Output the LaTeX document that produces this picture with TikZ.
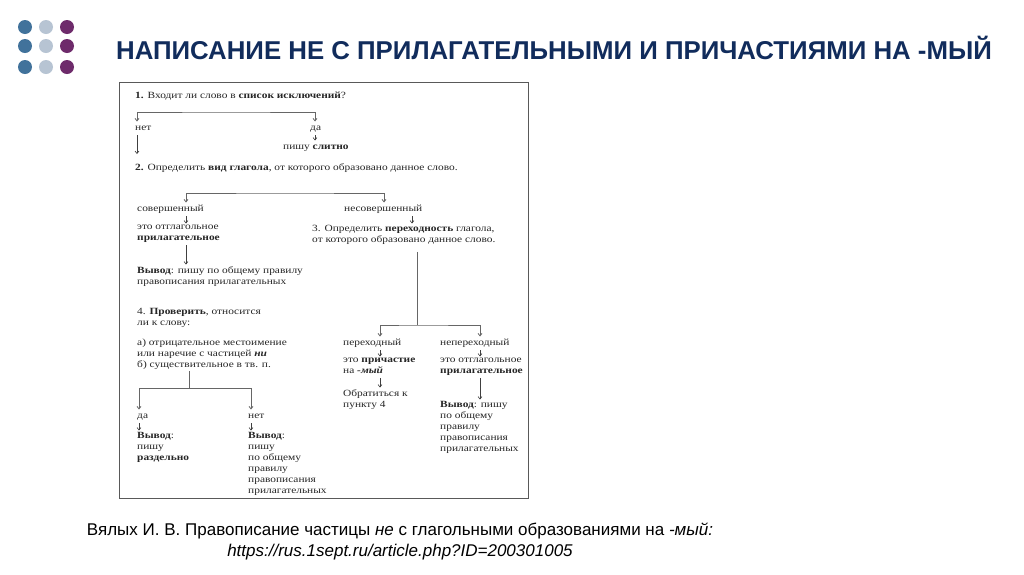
\documentclass[tikz,border=0pt]{standalone}
\usepackage{fontspec}
\setmainfont{Liberation Serif}
\newfontfamily\diafont[FakeStretch=1.2]{Liberation Serif}
\newfontfamily\headfont{Liberation Sans}
\usetikzlibrary{arrows.meta}
\definecolor{dotblue}{HTML}{41729B}
\definecolor{dotgray}{HTML}{B7C4D3}
\definecolor{dotpurple}{HTML}{6E2B6B}
\definecolor{titleblue}{HTML}{112C5C}

\begin{document}
\begin{tikzpicture}[x=1pt,y=-1pt,
    txt/.style={anchor=north west,align=left,inner sep=0pt,text=black!85,yshift=-1.5pt,
      font=\diafont\fontsize{9.5}{11}\selectfont,
      execute at begin node=\strut,execute at end node=\strut},
    arr/.style={-{Straight Barb[length=2.5pt,width=4pt]},line width=0.6pt,draw=black!75,
      shorten <=1pt,shorten >=1.5pt},
    bar/.style={line width=0.8pt,draw=black!60},
    both/.style={bar,{Straight Barb[length=2.5pt,width=4pt]}-{Straight Barb[length=2.5pt,width=4pt]},
      shorten <=1.5pt,shorten >=1.5pt}]
    \useasboundingbox (0,0) rectangle (1024,574);
    \fill[white] (0,0) rectangle (1024,574);
    \foreach \c/\col in {25/dotblue,46/dotgray,67/dotpurple}
      \foreach \r in {27,46,67} \fill[\col] (\c,\r) circle (7);
    \node[font=\headfont\bfseries\fontsize{25.8}{30}\selectfont,text=titleblue] (title) at (554,48)
      {НАПИСАНИЕ НЕ С ПРИЛАГАТЕЛЬНЫМИ И ПРИЧАСТИЯМИ НА -МЫЙ};
    \draw[line width=0.9pt,black!65] (119,82) rectangle (528,498);

    \coordinate (cA) at (137,0);
    \coordinate (cB) at (315,0);
    \coordinate (cP) at (186,0);
    \coordinate (cN) at (384,0);
    \coordinate (cN2) at (412,0);
    \coordinate (cQ3) at (417,0);
    \coordinate (cT) at (380,0);
    \coordinate (cI) at (480,0);
    \coordinate (cQ4) at (189,0);
    \coordinate (cD) at (139,0);
    \coordinate (cNo) at (251,0);
    \coordinate (b1) at (226,112);
    \coordinate (b2) at (285,193);
    \coordinate (b3) at (417,325);
    \coordinate (b4) at (189,388);

    \node[txt] (q1) at (135,89.5) {\textbf{1.} Входит ли слово в \textbf{список исключений}?};
    \node[txt] (no1) at (135,121.5) {нет};
    \node[txt] (yes1) at (310,121.5) {да};
    \node[txt] (wr1) at (283,140.5) {пишу \textbf{слитно}};
    \node[txt] (q2) at (135,161.5) {\textbf{2.} Определить \textbf{вид глагола}, от которого образовано данное слово.};
    \node[txt] (perf) at (137,202.5) {совершенный};
    \node[txt] (imperf) at (344,202.5) {несовершенный};
    \node[txt] (adj1) at (137,223.5) {это отглагольное\\\textbf{прилагательное}};
    \node[txt] (q3) at (312,223.5) {3. Определить \textbf{переходность} глагола,\\от которого образовано данное слово.};
    \node[txt] (concl1) at (137,264.5) {\textbf{Вывод}: пишу по общему правилу\\правописания прилагательных};
    \node[txt] (q4) at (137,306.5) {4. \textbf{Проверить}, относится\\ли к слову:};
    \node[txt] (q4b) at (137,337.5) {а) отрицательное местоимение\\или наречие с частицей \textbf{\textit{ни}}\\б) существительное в тв. п.};
    \node[txt] (yes4) at (137,409.5) {да};
    \node[txt] (no4) at (248,409.5) {нет};
    \node[txt] (concl4a) at (137,430.5) {\textbf{Вывод}:\\пишу\\\textbf{раздельно}};
    \node[txt] (concl4b) at (248,430.5) {\textbf{Вывод}:\\пишу\\по общему\\правилу\\правописания\\прилагательных};
    \node[txt] (trans) at (343,336.5) {переходный};
    \node[txt] (intr) at (440,336.5) {непереходный};
    \node[txt] (part) at (343,356.5) {это \textbf{причастие}\\на \textbf{\textit{-мый}}};
    \node[txt] (ref4) at (343,387.5) {Обратиться к\\пункту 4};
    \node[txt] (adj2) at (440,356.5) {это отглагольное\\\textbf{прилагательное}};
    \node[txt] (concl3) at (440,399.5) {\textbf{Вывод}: пишу\\по общему\\правилу\\правописания\\прилагательных};

    \draw[both] (no1.north -| cA) |- (b1) -| (yes1.north -| cB);
    \draw[arr] (yes1.south -| cB) -- (wr1.north -| cB);
    \draw[arr,shorten >=9pt] (no1.south -| cA) -- (q2.north -| cA);
    \draw[both] (perf.north -| cP) |- (b2) -| (imperf.north -| cN);
    \draw[arr] (perf.south -| cP) -- (adj1.north -| cP);
    \draw[arr] (imperf.south -| cN2) -- (q3.north -| cN2);
    \draw[arr] (adj1.south -| cP) -- (concl1.north -| cP);
    \draw[bar,shorten <=6pt] (q3.south -| cQ3) -- (b3);
    \draw[both] (trans.north -| cT) |- (b3) -| (intr.north -| cI);
    \draw[arr] (trans.south -| cT) -- (part.north -| cT);
    \draw[arr] (part.south -| cT) -- (ref4.north -| cT);
    \draw[arr] (intr.south -| cI) -- (adj2.north -| cI);
    \draw[arr] (adj2.south -| cI) -- (concl3.north -| cI);
    \draw[bar] (q4b.south -| cQ4) -- (b4);
    \draw[both] (yes4.north -| cD) |- (b4) -| (no4.north -| cNo);
    \draw[arr] (yes4.south -| cD) -- (concl4a.north -| cD);
    \draw[arr] (no4.south -| cNo) -- (concl4b.north -| cNo);

    \node[align=center,font=\headfont\fontsize{17}{21}\selectfont] (source) at (400,541)
      {Вялых И. В. Правописание частицы \textit{не} с глагольными образованиями на \textit{-мый:}\\
       \textit{https://rus.1sept.ru/article.php?ID=200301005}};
\end{tikzpicture}
\end{document}
